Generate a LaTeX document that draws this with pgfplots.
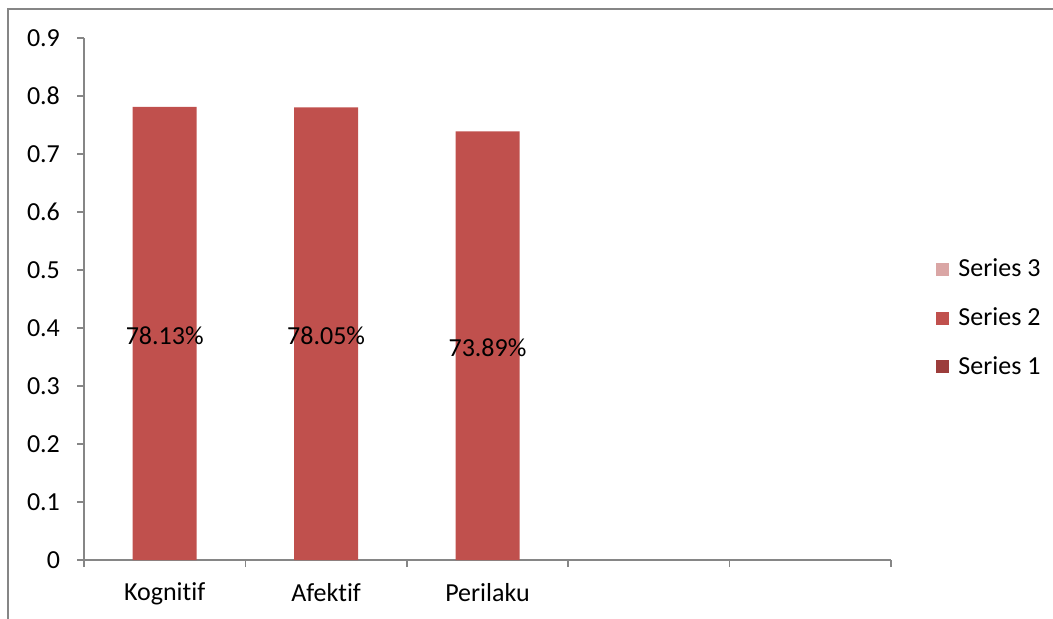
\documentclass[border=0pt]{standalone}
\usepackage{fontspec}
\setmainfont[Ligatures={NoCommon}]{Carlito}
\usepackage{pgfplots}
\pgfplotsset{compat=1.18}
\definecolor{ser1}{HTML}{9C3D3B}
\definecolor{ser2}{HTML}{C0504D}
\definecolor{ser3}{HTML}{DAA6A5}
\definecolor{axgray}{HTML}{868686}
\pgfplotsset{sqlegend/.style={legend image code/.code={\fill[##1] (0pt,-3.25pt) rectangle (6.5pt,3.25pt);}}}
\begin{document}
\begin{tikzpicture}[font=\fontsize{13}{15.6}\selectfont]
\path[use as bounding box] (-42pt,-29pt) rectangle (484.5pt,280pt);
\draw[axgray, line width=0.6pt] (-38pt,-30pt) -- (-38pt,275.5pt) -- (485pt,275.5pt);
\begin{axis}[
  at={(0pt,0pt)}, anchor=south west,
  scale only axis, width=403.5pt, height=261pt,
  xmin=0.5, xmax=5.5, ymin=0, ymax=0.9,
  axis x line*=bottom, axis y line*=left,
  axis line style={axgray, line width=0.75pt, -},
  tick style={axgray, line width=0.75pt},
  tick align=outside, major tick length=3.5pt,
  xtick={0.5,1.5,2.5,3.5,4.5,5.5}, xticklabels={},
  extra x ticks={1,2,3},
  extra x tick labels={Kognitif,Afektif,Perilaku},
  extra x tick style={major tick length=0pt, xticklabel style={yshift=-8pt}},
  ytick={0,0.1,0.2,0.3,0.4,0.5,0.6,0.7,0.8,0.9},
  yticklabels={0,0.1,0.2,0.3,0.4,0.5,0.6,0.7,0.8,0.9},
  yticklabel style={xshift=-5pt},
  ticklabel style={black, font=\fontsize{13}{15.6}\selectfont},
  legend style={at={(1.0558,0.4636)}, anchor=west, draw=none, fill=none,
    row sep=10pt, inner sep=0pt, font=\fontsize{13}{15.6}\selectfont,
    nodes={inner xsep=4.5pt}},
  legend cell align=left,
]
\addlegendimage{sqlegend, fill=ser3, draw=none}
\addlegendentry{Series 3}
\addplot[ybar, bar width=32pt, fill=ser2, draw=none, sqlegend]
  coordinates {(1,0.7813) (2,0.7805) (3,0.7389)};
\addlegendentry{Series 2}
\addlegendimage{sqlegend, fill=ser1, draw=none}
\addlegendentry{Series 1}
\addplot[draw=none, mark=none, forget plot, nodes near coords,
  point meta=explicit symbolic,
  every node near coord/.style={anchor=center, yshift=-1pt, black, font=\fontsize{13}{15.6}\selectfont}]
  coordinates {(1,0.3907)[78.13\%] (2,0.3903)[78.05\%] (3,0.3695)[73.89\%]};
\end{axis}
\end{tikzpicture}
\end{document}
